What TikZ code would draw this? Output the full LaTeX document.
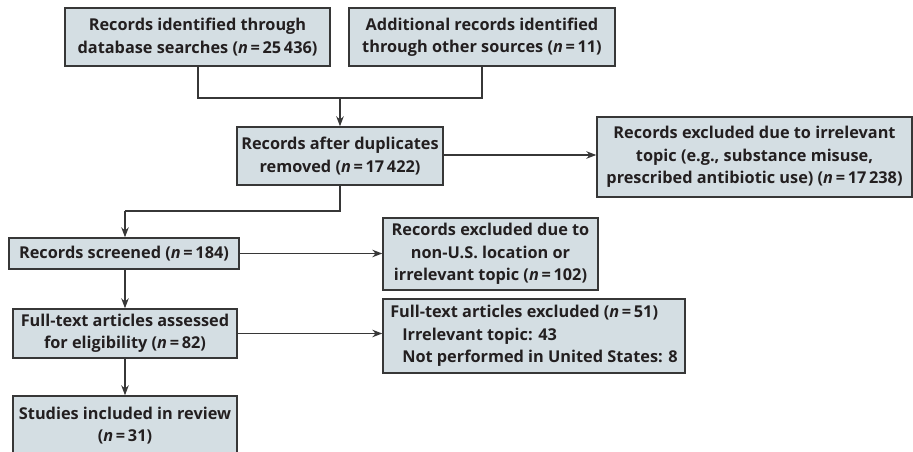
\documentclass[tikz,border=0pt]{standalone}
\usepackage{fontspec}
\setmainfont{Open Sans}
\usetikzlibrary{arrows.meta}
\definecolor{boxfill}{RGB}{212,222,227}
\definecolor{boxline}{RGB}{55,55,55}
\definecolor{txt}{RGB}{35,31,32}
\newcommand{\nn}{{\itshape n}\,=\,}
\tikzset{
  fbox/.style={draw=boxline, line width=1.4pt, fill=boxfill, inner sep=0pt,
    text=txt, font=\fontsize{16.3}{22.5}\selectfont\bfseries, align=center},
  conn/.style={draw=boxline, line width=1.3pt},
  arr/.style={conn, -{Stealth[length=10pt,width=7.5pt]}}
}
\begin{document}
\begin{tikzpicture}[x=1pt,y=-1pt]
\useasboundingbox (0,0) rectangle (913,452);
\clip (0,0) rectangle (913,452);
\node[fbox, minimum width=265pt, minimum height=58pt] (db) at (197.5,37) {Records identified through\\database searches (\nn25\,436)};
\node[fbox, minimum width=266pt, minimum height=58pt] (add) at (482,37) {Additional records identified\\through other sources (\nn11)};
\node[fbox, minimum width=206pt, minimum height=58pt] (dup) at (340,156) {Records after duplicates\\removed (\nn17\,422)};
\node[fbox, minimum width=315pt, minimum height=80pt] (ex1) at (754.5,157) {Records excluded due to irrelevant\\topic (e.g., substance misuse,\\prescribed antibiotic use) (\nn17\,238)};
\node[fbox, minimum width=230pt, minimum height=31pt] (scr) at (124,253.5) {Records screened (\nn184)};
\node[fbox, minimum width=215pt, minimum height=72pt] (ex2) at (490.5,254) {Records excluded due to\\non-U.S. location or\\irrelevant topic (\nn102)};
\node[fbox, minimum width=224pt, minimum height=49pt] (ft) at (125,333.5) {Full-text articles assessed\\for eligibility (\nn82)};
\node[fbox, minimum width=302pt, minimum height=74pt, align=left] (ex3) at (534,336) {Full-text articles excluded (\nn51)\\\hspace*{12pt}Irrelevant topic: 43\\\hspace*{12pt}Not performed in United States: 8};
\node[fbox, minimum width=224pt, minimum height=59pt] (st) at (125,425.5) {Studies included in review\\(\nn31)};
\coordinate (jl) at (198,98);
\coordinate (jr) at (482,98);
\coordinate (jm) at (340,98);
\coordinate (k1) at (340,211);
\coordinate (k2) at (125,211);
\draw[conn] (db.south -| jl) -- (jl) -- (jr) -- (add.south);
\draw[arr] (jm) -- (dup.north);
\draw[arr] (dup.east |- 0,155) -- (ex1.west |- 0,155);
\draw[conn] (dup.south) -- (k1) -- (k2);
\draw[arr] (k2) -- (scr.north -| k2);
\draw[arr] (scr.east) -- (ex2.west |- scr.east);
\draw[arr] (scr.south -| k2) -- (ft.north);
\draw[arr] (ft.east) -- (ex3.west |- ft.east);
\draw[arr] (ft.south) -- (st.north);
\end{tikzpicture}
\end{document}
